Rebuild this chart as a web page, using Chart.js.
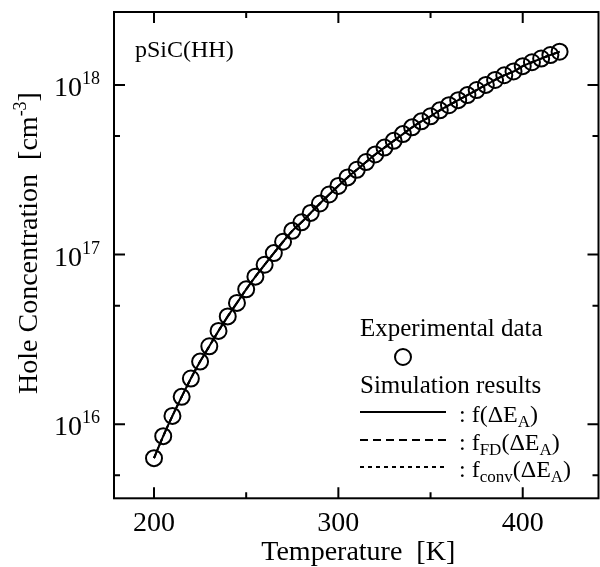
<!DOCTYPE html>
<html>
<head>
<meta charset="utf-8">
<script src="https://cdn.jsdelivr.net/npm/chart.js@4.4.1/dist/chart.umd.min.js"></script>
<style>
  body { margin: 0; background: #fff; }
  #wrap { width: 600px; height: 567px; }
</style>
</head>
<body>
<div id="wrap"><canvas id="holeChart" width="600" height="567"></canvas></div>
<script>
// temperature [K]
var temps = [200, 205, 210, 215, 220, 225, 230, 235, 240, 245,
             250, 255, 260, 265, 270, 275, 280, 285, 290, 295,
             300, 305, 310, 315, 320, 325, 330, 335, 340, 345,
             350, 355, 360, 365, 370, 375, 380, 385, 390, 395,
             400, 405, 410, 415, 420];
// experimental hole concentration [cm^-3]
var holeConc = [6.31e15, 8.51e15, 1.12e16, 1.45e16, 1.86e16, 2.34e16, 2.88e16, 3.55e16, 4.32e16, 5.19e16,
                6.24e16, 7.41e16, 8.71e16, 1.02e17, 1.19e17, 1.38e17, 1.55e17, 1.76e17, 2.00e17, 2.26e17,
                2.54e17, 2.85e17, 3.16e17, 3.51e17, 3.89e17, 4.27e17, 4.68e17, 5.13e17, 5.62e17, 6.10e17,
                6.53e17, 7.08e17, 7.59e17, 8.13e17, 8.71e17, 9.33e17, 1.00e18, 1.07e18, 1.14e18, 1.20e18,
                1.29e18, 1.36e18, 1.43e18, 1.50e18, 1.57e18];
// simulation curves (the three fits lie on top of each other)
var simF = holeConc.slice();
var simFD = holeConc.slice();
var simConv = holeConc.slice();

var xMajor = [200, 300, 400];
var xMinor = [250, 350];
var yMajor = [1e16, 1e17, 1e18];
var yMinor = [5e15, 5e16, 5e17];
var yExp = {1e16: '16', 1e17: '17', 1e18: '18'};

var SERIF = '"Liberation Serif", "Times New Roman", serif';

function pts(ys) {
    return temps.map(function(t, i) { return {x: t, y: ys[i]}; });
}

// draws a run of text pieces [text, size, dy] starting at x
function drawParts(ctx, parts, x, y) {
    parts.forEach(function(p) {
        ctx.font = p[1] + 'px ' + SERIF;
        ctx.fillText(p[0], x, y + (p[2] || 0));
        x += ctx.measureText(p[0]).width;
    });
    return x;
}
function partsWidth(ctx, parts) {
    var w = 0;
    parts.forEach(function(p) {
        ctx.font = p[1] + 'px ' + SERIF;
        w += ctx.measureText(p[0]).width;
    });
    return w;
}

var decor = {
    id: 'decor',
    afterDraw: function(chart) {
        var ctx = chart.ctx, a = chart.chartArea;
        var xs = chart.scales.x, ys = chart.scales.y;
        ctx.save();
        ctx.strokeStyle = '#000';
        ctx.fillStyle = '#000';
        ctx.lineWidth = 2;
        ctx.strokeRect(a.left, a.top, a.right - a.left, a.bottom - a.top);

        // inward ticks on all four sides
        function xt(v, len) {
            var p = xs.getPixelForValue(v);
            ctx.beginPath();
            ctx.moveTo(p, a.bottom); ctx.lineTo(p, a.bottom - len);
            ctx.moveTo(p, a.top); ctx.lineTo(p, a.top + len);
            ctx.stroke();
        }
        function yt(v, len) {
            var p = ys.getPixelForValue(v);
            ctx.beginPath();
            ctx.moveTo(a.left, p); ctx.lineTo(a.left + len, p);
            ctx.moveTo(a.right, p); ctx.lineTo(a.right - len, p);
            ctx.stroke();
        }
        xMajor.forEach(function(v) { xt(v, 11); });
        xMinor.forEach(function(v) { xt(v, 6); });
        yMajor.forEach(function(v) { yt(v, 11); });
        yMinor.forEach(function(v) { yt(v, 6); });

        // x tick labels
        ctx.textBaseline = 'alphabetic';
        ctx.textAlign = 'center';
        ctx.font = '28px ' + SERIF;
        xMajor.forEach(function(v) {
            ctx.fillText(String(v), xs.getPixelForValue(v), 531);
        });

        // y tick labels 10^n
        ctx.textAlign = 'left';
        yMajor.forEach(function(v) {
            var p = ys.getPixelForValue(v);
            var parts = [['10', 28, 11], [yExp[v], 18, -1]];
            drawParts(ctx, parts, 100 - partsWidth(ctx, parts), p);
        });

        // axis titles
        ctx.textAlign = 'center';
        ctx.font = '28px ' + SERIF;
        ctx.fillText('Temperature  [K]', (a.left + a.right) / 2 + 2, 560);

        ctx.save();
        ctx.translate(37, 243);
        ctx.rotate(-Math.PI / 2);
        ctx.textAlign = 'left';
        var yt_parts = [['Hole Concentration  [cm', 28, 0], ['-3', 18, -11], [']', 28, 0]];
        drawParts(ctx, yt_parts, -partsWidth(ctx, yt_parts) / 2, 0);
        ctx.restore();

        // sample label
        ctx.textAlign = 'left';
        ctx.font = '24px ' + SERIF;
        ctx.fillText('pSiC(HH)', 135, 57);

        // legend
        ctx.font = '25px ' + SERIF;
        ctx.fillText('Experimental data', 360, 336);
        ctx.beginPath();
        ctx.arc(403, 357, 8, 0, Math.PI * 2);
        ctx.stroke();
        ctx.fillText('Simulation results', 360, 393);

        var rows = [
            {y: 412, dash: [], lw: 2, parts: [[': f(ΔE', 24, 0], ['A', 17, 5], [')', 24, 0]]},
            {y: 440, dash: [8, 5], lw: 2, parts: [[': f', 24, 0], ['FD', 17, 5], ['(ΔE', 24, 0], ['A', 17, 5], [')', 24, 0]]},
            {y: 467, dash: [4, 4], lw: 2, parts: [[': f', 24, 0], ['conv', 17, 5], ['(ΔE', 24, 0], ['A', 17, 5], [')', 24, 0]]}
        ];
        rows.forEach(function(r) {
            ctx.lineWidth = r.lw;
            ctx.setLineDash(r.dash);
            ctx.beginPath();
            ctx.moveTo(360, r.y); ctx.lineTo(446, r.y);
            ctx.stroke();
            ctx.setLineDash([]);
            drawParts(ctx, r.parts, 459, r.y + 10);
        });
        ctx.restore();
    }
};

new Chart(document.getElementById('holeChart'), {
    type: 'line',
    data: {
        datasets: [{
            label: 'Experimental data',
            data: pts(holeConc),
            showLine: false,
            pointStyle: 'circle',
            pointRadius: 8,
            pointBorderWidth: 2,
            pointBorderColor: '#000',
            pointBackgroundColor: 'rgba(0,0,0,0)'
        }, {
            label: 'f',
            data: pts(simF),
            borderColor: '#000',
            borderWidth: 2,
            pointRadius: 0,
            tension: 0.3
        }, {
            label: 'fFD',
            data: pts(simFD),
            borderColor: '#000',
            borderWidth: 2,
            borderDash: [8, 5],
            pointRadius: 0,
            tension: 0.3
        }, {
            label: 'fconv',
            data: pts(simConv),
            borderColor: '#000',
            borderWidth: 2,
            borderDash: [4, 4],
            pointRadius: 0,
            tension: 0.3
        }]
    },
    options: {
        responsive: false,
        animation: false,
        layout: { autoPadding: false, padding: { left: 114, top: 12, right: 1.5, bottom: 68.7 } },
        plugins: { legend: { display: false }, tooltip: { enabled: false } },
        scales: {
            x: { type: 'linear', min: 178.3, max: 441.1, display: false },
            y: { type: 'logarithmic', min: 3.66e15, max: 2.69e18, display: false }
        }
    },
    plugins: [decor]
});
</script>
</body>
</html>
